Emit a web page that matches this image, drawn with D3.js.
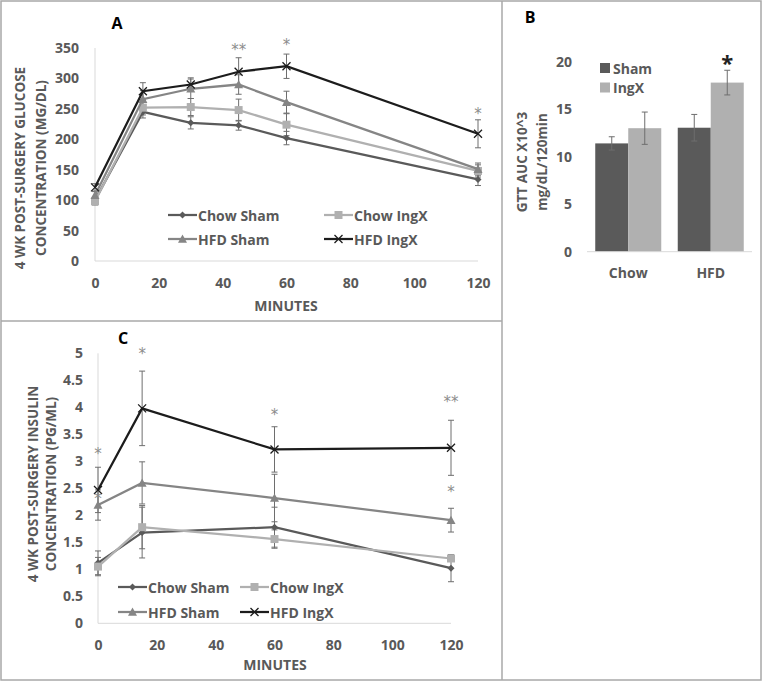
<!DOCTYPE html>
<html>
<head>
<meta charset="utf-8">
<script src="https://cdn.jsdelivr.net/npm/d3@7"></script>
<style>
html,body{margin:0;padding:0;background:#fff;}
svg{display:block;font-family:"Open Sans",sans-serif;}
</style>
</head>
<body>
<svg id="c" width="762" height="682"></svg>
<script>
// ---------- DATA ----------
const seriesNames = ["Chow Sham", "Chow IngX", "HFD Sham", "HFD IngX"];

// Panel A: glucose (mg/dL)
const gluTimes = [0, 15, 30, 45, 60, 120];
const gluChowSham = [100, 245, 227, 223, 202, 134];
const gluChowShamErr = [6, 10, 10, 8, 11, 10];
const gluChowIngx = [98, 252, 253, 248, 224, 148];
const gluChowIngxErr = [6, 12, 14, 18, 18, 10];
const gluHfdSham = [108, 266, 283, 290, 261, 151];
const gluHfdShamErr = [6, 14, 16, 16, 18, 10];
const gluHfdIngx = [121, 279, 290, 311, 320, 209];
const gluHfdIngxErr = [6, 14, 11, 23, 20, 23];
const gluTicksY = [0, 50, 100, 150, 200, 250, 300, 350];
const gluTicksX = [0, 20, 40, 60, 80, 100, 120];
const gluStars = [{t: 45, v: 350, s: "**"}, {t: 60, v: 358, s: "*"}, {t: 120, v: 245, s: "*"}];

// Panel B: GTT AUC
const aucCategories = ["Chow", "HFD"];
const aucGroups = ["Sham", "IngX"];
const aucSham = [11.4, 13.05];
const aucShamErr = [0.7, 1.4];
const aucIngx = [13.0, 17.8];
const aucIngxErr = [1.7, 1.3];
const aucTicksY = [0, 5, 10, 15, 20];
const aucStars = [{cat: "HFD", group: "IngX", v: 20.3, s: "*"}];

// Panel C: insulin (pg/mL)
const insTimes = [0, 15, 60, 120];
const insChowSham = [1.12, 1.68, 1.78, 1.02];
const insChowShamErr = [0.22, 0.47, 0.37, 0.25];
const insChowIngx = [1.05, 1.78, 1.56, 1.20];
const insChowIngxErr = [0.17, 0.40, 0.17, 0.05];
const insHfdSham = [2.19, 2.60, 2.32, 1.91];
const insHfdShamErr = [0.28, 0.39, 0.44, 0.22];
const insHfdIngx = [2.47, 3.98, 3.22, 3.25];
const insHfdIngxErr = [0.42, 0.69, 0.42, 0.51];
const insTicksY = [0, 0.5, 1, 1.5, 2, 2.5, 3, 3.5, 4, 4.5, 5];
const insTicksX = [0, 20, 40, 60, 80, 100, 120];
const insStars = [{t: 0, v: 3.18, s: "*"}, {t: 0, v: 2.34, s: "*"}, {t: 15, v: 5.03, s: "*"},
                  {t: 60, v: 3.9, s: "*"}, {t: 120, v: 4.13, s: "**"}, {t: 120, v: 2.47, s: "*"}];

// ---------- STYLE ----------
const TXT = "#595959";
const seriesStyle = [
  {color: "#5a5a5a", sym: "diamond", size: 7},
  {color: "#b0b0b0", sym: "square", size: 8},
  {color: "#858585", sym: "triangle", size: 9},
  {color: "#1c1c1c", sym: "x", size: 8}
];
const ERR = "#6e6e6e";
const STAR = "#8c8c8c";
const TICK_FS = 14;

const svg = d3.select("#c");

// borders
const bc = "#a8a8a8";
svg.append("rect").attr("x", 1).attr("y", 1).attr("width", 760).attr("height", 679)
  .attr("fill", "none").attr("stroke", bc).attr("stroke-width", 1.5);
svg.append("line").attr("x1", 502).attr("x2", 502).attr("y1", 1).attr("y2", 680).attr("stroke", bc).attr("stroke-width", 1.5);
svg.append("line").attr("x1", 1).attr("x2", 502).attr("y1", 321).attr("y2", 321).attr("stroke", bc).attr("stroke-width", 1.5);

function markerPath(sym, s) {
  const h = s / 2;
  if (sym === "diamond") return `M0,${-h}L${h},0L0,${h}L${-h},0Z`;
  if (sym === "square") return `M${-h},${-h}H${h}V${h}H${-h}Z`;
  if (sym === "triangle") return `M0,${-h}L${h},${h*0.85}L${-h},${h*0.85}Z`;
  return `M${-h},${-h}L${h},${h}M${h},${-h}L${-h},${h}`;
}
function drawMarker(g, st, x, y) {
  const p = g.append("path").attr("transform", `translate(${x},${y})`).attr("d", markerPath(st.sym, st.size));
  if (st.sym === "x") p.attr("fill", "none").attr("stroke", st.color).attr("stroke-width", 1.3);
  else p.attr("fill", st.color);
}

function linePanel(opt) {
  const g = svg.append("g");
  const x = d3.scaleLinear().domain([0, 120]).range(opt.xr);
  const y = d3.scaleLinear().domain(opt.yd).range(opt.yr);
  // axis lines
  g.append("line").attr("x1", x(0)).attr("x2", x(0)).attr("y1", y(opt.yd[1])).attr("y2", y(0)).attr("stroke", "#d9d9d9");
  g.append("line").attr("x1", x(0)).attr("x2", x(120)).attr("y1", y(0)).attr("y2", y(0)).attr("stroke", "#d9d9d9");
  // y ticks
  const ya = d3.axisLeft(y).tickValues(opt.ticksY).tickSize(0).tickPadding(0).tickFormat(d => String(d));
  const yg = g.append("g").attr("transform", `translate(${opt.yLabelX},0)`).call(ya);
  yg.select(".domain").remove();
  yg.selectAll("text").attr("fill", TXT).attr("font-size", TICK_FS).attr("font-weight", 700).attr("font-family", "Open Sans");
  // x ticks
  const xa = d3.axisBottom(x).tickValues(opt.ticksX).tickSize(0).tickPadding(0).tickFormat(d => String(d));
  const xg = g.append("g").attr("transform", `translate(0,${opt.xLabelY})`).call(xa);
  xg.select(".domain").remove();
  xg.selectAll("text").attr("fill", TXT).attr("font-size", TICK_FS).attr("font-weight", 700).attr("font-family", "Open Sans").attr("dy", 0);
  // titles
  g.append("text").attr("x", opt.xTitle[0]).attr("y", opt.xTitle[1]).attr("text-anchor", "middle")
    .attr("fill", TXT).attr("font-size", 14).attr("font-weight", 700).text("MINUTES");
  opt.yTitle.forEach((t, i) => {
    g.append("text").attr("transform", `translate(${opt.yTitleX[i]},${opt.yTitleY}) rotate(-90)`)
      .attr("text-anchor", "middle").attr("dominant-baseline", "middle")
      .attr("fill", TXT).attr("font-size", 13.5).attr("font-weight", 700).text(t);
  });
  g.append("text").attr("x", opt.label[0]).attr("y", opt.label[1]).attr("text-anchor", "middle")
    .attr("fill", "#000").attr("font-size", 16).attr("font-weight", 700).text(opt.labelText);

  // error bars
  opt.series.forEach((s, si) => {
    s.vals.forEach((v, i) => {
      const xx = x(opt.times[i]), e = s.err[i];
      const eg = g.append("g").attr("stroke", ERR).attr("stroke-width", 1);
      eg.append("line").attr("x1", xx).attr("x2", xx).attr("y1", y(v - e)).attr("y2", y(v + e));
      eg.append("line").attr("x1", xx - 3).attr("x2", xx + 3).attr("y1", y(v - e)).attr("y2", y(v - e));
      eg.append("line").attr("x1", xx - 3).attr("x2", xx + 3).attr("y1", y(v + e)).attr("y2", y(v + e));
    });
  });
  // lines + markers
  opt.series.forEach((s, si) => {
    const st = seriesStyle[si];
    const line = d3.line().x((d, i) => x(opt.times[i])).y(d => y(d));
    g.append("path").attr("d", line(s.vals)).attr("fill", "none").attr("stroke", st.color).attr("stroke-width", 2.25);
    s.vals.forEach((v, i) => drawMarker(g, st, x(opt.times[i]), y(v)));
  });
  // stars
  opt.stars.forEach(s => {
    g.append("text").attr("x", x(s.t)).attr("y", y(s.v) + 7).attr("text-anchor", "middle")
      .attr("fill", STAR).attr("font-size", 15).attr("font-family", "DejaVu Sans").text(s.s);
  });
  // legend
  seriesNames.forEach((n, i) => {
    const lx = opt.legX[i % 2], ly = opt.legY[Math.floor(i / 2)];
    const st = seriesStyle[i];
    g.append("line").attr("x1", lx).attr("x2", lx + 29).attr("y1", ly).attr("y2", ly).attr("stroke", st.color).attr("stroke-width", 2.25);
    drawMarker(g, st, lx + 14.5, ly);
    g.append("text").attr("x", lx + 30).attr("y", ly).attr("dominant-baseline", "central")
      .attr("fill", TXT).attr("font-size", 14).attr("font-weight", 700).text(n);
  });
}

linePanel({
  xr: [95, 478], yd: [0, 350], yr: [261, 48], times: gluTimes,
  ticksY: gluTicksY, ticksX: gluTicksX, yLabelX: 79, xLabelY: 288,
  xTitle: [286, 311], yTitle: ["4 WK POST-SURGERY GLUCOSE", "CONCENTRATION (MG/DL)"],
  yTitleX: [21, 42], yTitleY: 168, label: [117, 29], labelText: "A",
  series: [
    {vals: gluChowSham, err: gluChowShamErr},
    {vals: gluChowIngx, err: gluChowIngxErr},
    {vals: gluHfdSham, err: gluHfdShamErr},
    {vals: gluHfdIngx, err: gluHfdIngxErr}
  ],
  stars: gluStars, legX: [168, 324], legY: [215, 239]
});

linePanel({
  xr: [98, 451], yd: [0, 5], yr: [623.3, 353.3], times: insTimes,
  ticksY: insTicksY, ticksX: insTicksX, yLabelX: 83, xLabelY: 650,
  xTitle: [275, 670], yTitle: ["4 WK POST-SURGERY INSULIN", "CONCENTRATION (PG/ML)"],
  yTitleX: [34, 52], yTitleY: 484, label: [123, 344], labelText: "C",
  series: [
    {vals: insChowSham, err: insChowShamErr},
    {vals: insChowIngx, err: insChowIngxErr},
    {vals: insHfdSham, err: insHfdShamErr},
    {vals: insHfdIngx, err: insHfdIngxErr}
  ],
  stars: insStars, legX: [118, 240], legY: [587, 612]
});

// ---------- Panel B ----------
(function () {
  const g = svg.append("g");
  const x0 = d3.scaleBand().domain(aucCategories).range([587, 752]).paddingInner(0.2).paddingOuter(0.1);
  const x1 = d3.scaleBand().domain(aucGroups).range([0, x0.bandwidth()]);
  const y = d3.scaleLinear().domain([0, 20]).range([251.7, 61.7]);
  const colors = {Sham: "#5a5a5a", IngX: "#b0b0b0"};
  const vals = {Sham: aucSham, IngX: aucIngx};
  const errs = {Sham: aucShamErr, IngX: aucIngxErr};

  const ya = d3.axisLeft(y).tickValues(aucTicksY).tickSize(0).tickPadding(0);
  const yg = g.append("g").attr("transform", "translate(572,0)").call(ya);
  yg.select(".domain").remove();
  yg.selectAll("text").attr("fill", TXT).attr("font-size", TICK_FS).attr("font-weight", 700).attr("font-family", "Open Sans");

  aucCategories.forEach((c, ci) => {
    aucGroups.forEach(gr => {
      const v = vals[gr][ci], e = errs[gr][ci];
      const bx = x0(c) + x1(gr);
      g.append("rect").attr("x", bx).attr("y", y(v)).attr("width", x1.bandwidth()).attr("height", y(0) - y(v)).attr("fill", colors[gr]);
      const cx = bx + x1.bandwidth() / 2;
      const eg = g.append("g").attr("stroke", ERR).attr("stroke-width", 1);
      eg.append("line").attr("x1", cx).attr("x2", cx).attr("y1", y(v - e)).attr("y2", y(v + e));
      eg.append("line").attr("x1", cx - 3).attr("x2", cx + 3).attr("y1", y(v - e)).attr("y2", y(v - e));
      eg.append("line").attr("x1", cx - 3).attr("x2", cx + 3).attr("y1", y(v + e)).attr("y2", y(v + e));
    });
  });
  g.append("line").attr("x1", 587).attr("x2", 752).attr("y1", y(0)).attr("y2", y(0)).attr("stroke", "#d9d9d9");

  const xa = d3.axisBottom(x0).tickSize(0).tickPadding(0);
  const xg = g.append("g").attr("transform", "translate(0,268)").call(xa);
  xg.select(".domain").remove();
  xg.selectAll("text").attr("fill", TXT).attr("font-size", TICK_FS).attr("font-weight", 700).attr("font-family", "Open Sans").attr("dy", 0).attr("y", 10);

  aucStars.forEach(s => {
    const cx = x0(s.cat) + x1(s.group) + x1.bandwidth() / 2;
    g.append("text").attr("x", cx).attr("y", y(s.v) + 12).attr("text-anchor", "middle")
      .attr("fill", "#222").attr("font-size", 22).attr("font-weight", 700).text(s.s);
  });

  aucGroups.forEach((gr, i) => {
    const ly = 68 + i * 19.5;
    g.append("rect").attr("x", 600).attr("y", ly - 5).attr("width", 10).attr("height", 10).attr("fill", colors[gr]);
    g.append("text").attr("x", 613).attr("y", ly).attr("dominant-baseline", "central")
      .attr("fill", TXT).attr("font-size", 14).attr("font-weight", 700).text(gr);
  });

  ["GTT AUC X10^3", "mg/dL/120min"].forEach((t, i) => {
    g.append("text").attr("transform", `translate(${523 + i * 20},162) rotate(-90)`)
      .attr("text-anchor", "middle").attr("dominant-baseline", "middle")
      .attr("fill", TXT).attr("font-size", 13.5).attr("font-weight", 700).text(t);
  });
  g.append("text").attr("x", 530).attr("y", 23).attr("text-anchor", "middle")
    .attr("fill", "#000").attr("font-size", 16).attr("font-weight", 700).text("B");
})();
</script>
</body>
</html>
